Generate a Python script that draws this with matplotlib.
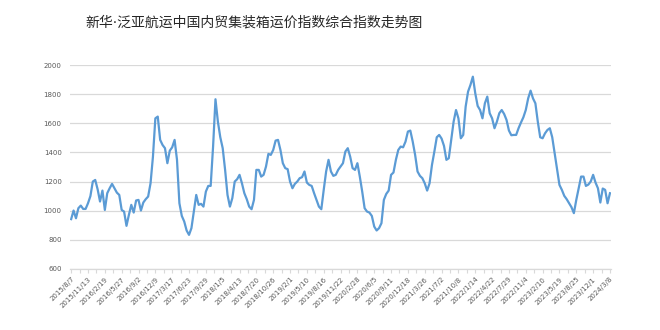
import matplotlib
matplotlib.use("Agg")
import matplotlib.pyplot as plt
import pandas as pd
import numpy as np

plt.rcParams['font.family'] = ['Noto Sans CJK SC', 'DejaVu Sans']

title = "新华·泛亚航运中国内贸集装箱运价指数综合指数走势图"
start_date = "2015-08-07"
sample_step_weeks = 2      # values read every two weeks
label_step_weeks = 14      # axis labels every 14 weeks

values = [
    942, 1001, 948, 1017, 1035, 1012, 1012, 1051, 1100, 1200,
    1211, 1147, 1063, 1138, 1005, 1120, 1154, 1184, 1154, 1124,
    1108, 1005, 994, 896, 971, 1040, 987, 1070, 1074, 1001,
    1056, 1079, 1097, 1188, 1371, 1634, 1646, 1486, 1451, 1429,
    1326, 1412, 1435, 1486, 1349, 1051,
    964, 926, 864, 834, 880, 994, 1108, 1040, 1047, 1028,
    1131, 1170, 1170, 1440, 1765, 1611, 1504, 1429, 1280, 1108,
    1028, 1086, 1200, 1216, 1246, 1188, 1120, 1079, 1028, 1010,
    1074, 1280, 1280, 1234, 1246, 1303, 1390, 1383, 1417, 1481,
    1486, 1417, 1326, 1292,
    1285, 1200, 1154, 1184, 1200, 1223, 1230, 1269, 1193, 1177,
    1170, 1120, 1074, 1028, 1010, 1143, 1269, 1349, 1269, 1239,
    1246, 1280, 1303, 1326, 1406, 1429, 1371, 1292, 1280, 1326,
    1234, 1131, 1017, 994, 987, 964, 891, 864, 880, 914,
    1074, 1115, 1138, 1246, 1262, 1349,
    1417, 1440, 1435, 1474, 1543, 1550, 1474, 1383, 1269, 1239,
    1223, 1188, 1138, 1188, 1314, 1406, 1504, 1520, 1495, 1445,
    1349, 1360, 1486, 1611, 1691, 1634, 1497, 1520, 1714, 1817,
    1863, 1920, 1806, 1719, 1691, 1634, 1737, 1783, 1669, 1634,
    1566, 1611, 1669, 1691,
    1664, 1623, 1550, 1518, 1520, 1520, 1566, 1605, 1641, 1691,
    1771, 1824, 1771, 1737, 1611, 1504, 1497, 1531, 1554, 1566,
    1504, 1394, 1280, 1177, 1143, 1102, 1079, 1051, 1024, 983,
    1074, 1154, 1234, 1234, 1170, 1179, 1200, 1246, 1193, 1154,
    1056, 1152, 1143, 1051, 1120,
]

weeks = np.arange(len(values)) * sample_step_weeks
n_weeks = weeks[-1]
label_weeks = np.arange(0, n_weeks + 1, label_step_weeks)
label_dates = pd.to_datetime(start_date) + pd.to_timedelta(label_weeks * 7, unit="D")
tick_labels = [f"{d.year}/{d.month}/{d.day}" for d in label_dates]

fig = plt.figure(figsize=(6.6, 3.3), dpi=100)
ax = fig.add_axes([0.106, 0.185, 0.820, 0.618])

ax.plot(weeks, values, color="#5B9BD5", linewidth=1.6, solid_joinstyle="round")

ax.set_ylim(600, 2000)
ax.set_yticks(np.arange(600, 2001, 200))
ax.set_xlim(-1, n_weeks + 1)
ax.set_xticks(label_weeks)
ax.set_xticklabels(tick_labels, rotation=45, ha="right", rotation_mode="anchor",
                   fontsize=5, color="#595959", family=["DejaVu Sans"])
ax.set_xticks(np.arange(0, n_weeks + 1, 7), minor=True)
ax.tick_params(axis="x", which="both", length=3, color="#D9D9D9", width=0.8, pad=2)
ax.tick_params(axis="y", length=0, labelsize=5, labelcolor="#595959", pad=6)
for lab in ax.get_yticklabels():
    lab.set_family(["DejaVu Sans"])

ax.grid(axis="y", color="#D9D9D9", linewidth=0.9)
ax.set_axisbelow(True)
for s in ["top", "right", "left"]:
    ax.spines[s].set_visible(False)
ax.spines["bottom"].set_color("#D9D9D9")
ax.spines["bottom"].set_linewidth(0.9)

fig.text(0.385, 0.933, title, ha="center", va="center", fontsize=10.0,
         color="#262626", family=["DejaVu Sans", "Noto Sans CJK SC"])

fig.savefig("out.png", dpi=100, facecolor="white")
